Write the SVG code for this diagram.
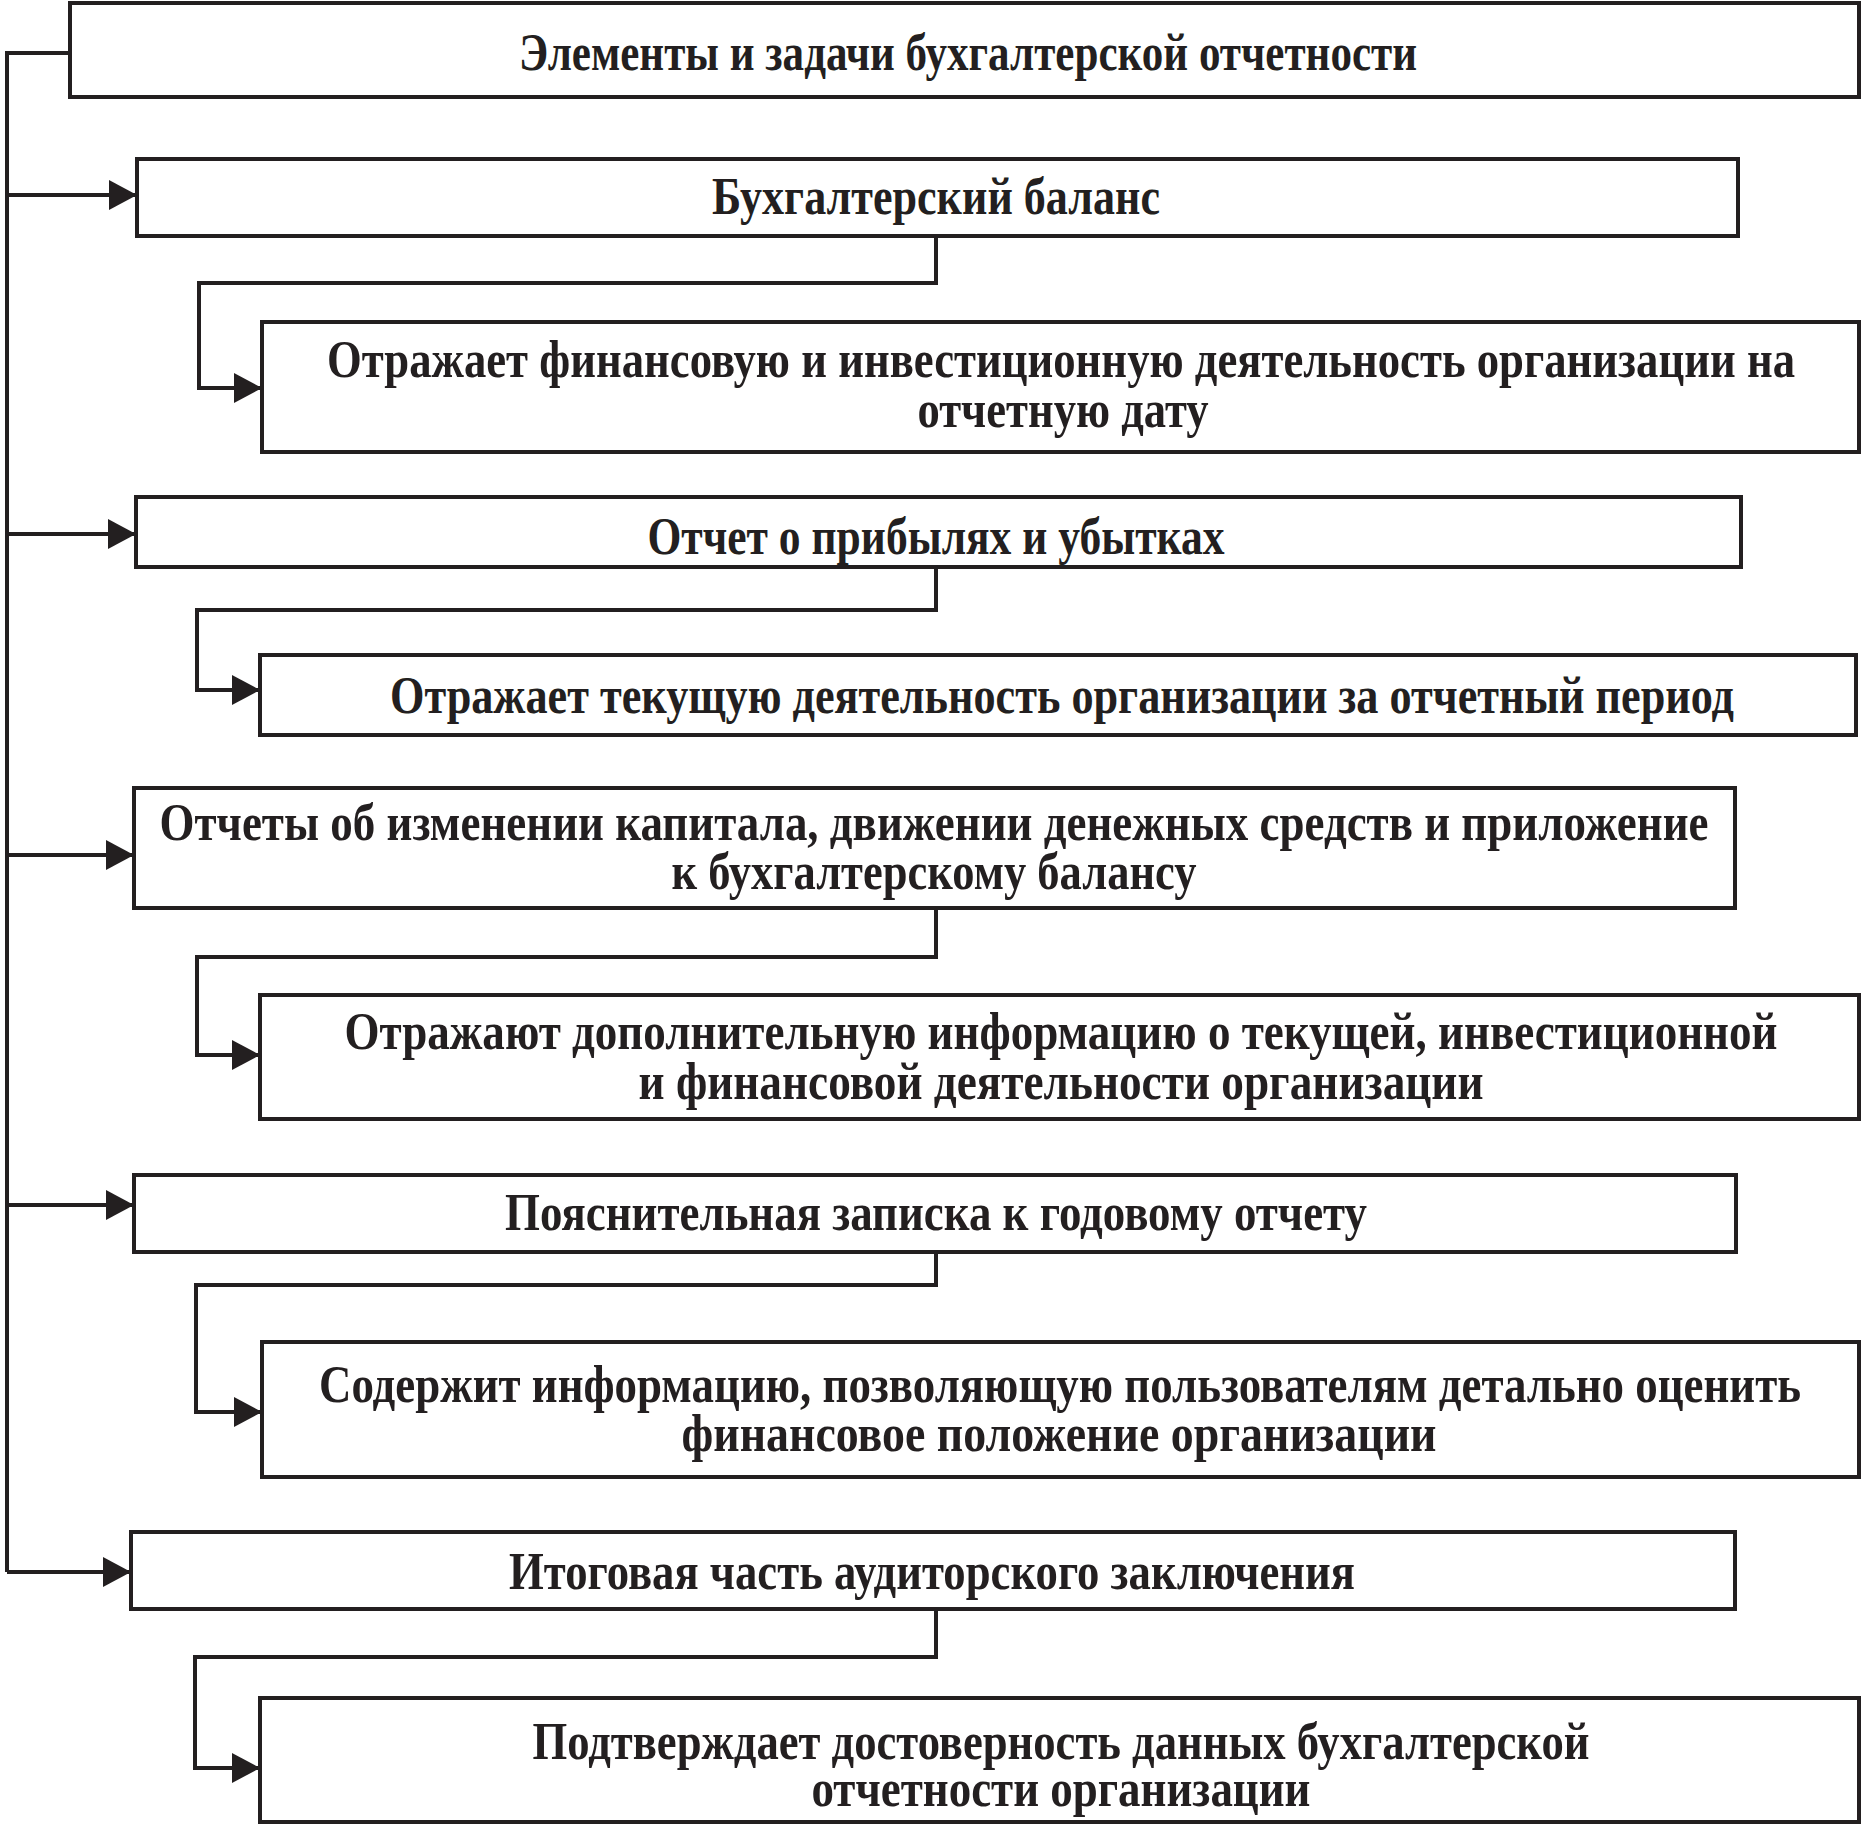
<svg xmlns="http://www.w3.org/2000/svg" width="1864" height="1825" viewBox="0 0 1864 1825">
<style>
.box{fill:#fff;stroke:#231f20;stroke-width:4}
.t{font-family:"Liberation Serif","Times New Roman",serif;font-weight:bold;font-size:52px;fill:#231f20;text-anchor:middle}
.c{fill:none;stroke:#231f20;stroke-width:4}
</style>
<defs>
<marker id="ah" markerUnits="userSpaceOnUse" markerWidth="28" markerHeight="30" refX="28" refY="15" orient="auto">
<path d="M0,0 L28,15 L0,30 z" fill="#231f20"/>
</marker>
</defs>
<rect width="1864" height="1825" fill="#fff"/>
<g id="connectors">
<path class="c" d="M70,53 H7 V1572"/>
<path class="c" d="M7,195 H137" marker-end="url(#ah)"/>
<path class="c" d="M7,534 H136" marker-end="url(#ah)"/>
<path class="c" d="M7,855 H134" marker-end="url(#ah)"/>
<path class="c" d="M7,1205 H134" marker-end="url(#ah)"/>
<path class="c" d="M7,1572 H131" marker-end="url(#ah)"/>
<path class="c" d="M936,236 V283 H199 V388 H262" marker-end="url(#ah)"/>
<path class="c" d="M936,567 V610 H197 V690 H260" marker-end="url(#ah)"/>
<path class="c" d="M936,908 V957 H197 V1055 H260" marker-end="url(#ah)"/>
<path class="c" d="M936,1252 V1285 H196 V1412 H262" marker-end="url(#ah)"/>
<path class="c" d="M936,1609 V1657 H195 V1768 H260" marker-end="url(#ah)"/>
</g>
<g id="title">
<rect class="box" x="70" y="3" width="1789" height="94"/>
<text class="t" x="968" y="70" textLength="898" lengthAdjust="spacingAndGlyphs">Элементы и задачи бухгалтерской отчетности</text>
</g>
<g id="balance">
<rect class="box" x="137" y="159" width="1601" height="77"/>
<text class="t" x="936" y="214" textLength="448" lengthAdjust="spacingAndGlyphs">Бухгалтерский баланс</text>
</g>
<g id="balance-task">
<rect class="box" x="262" y="322" width="1597" height="130"/>
<text class="t" x="1061" y="377" textLength="1468" lengthAdjust="spacingAndGlyphs">Отражает финансовую и инвестиционную деятельность организации на</text>
<text class="t" x="1063" y="427" textLength="291" lengthAdjust="spacingAndGlyphs">отчетную дату</text>
</g>
<g id="profit">
<rect class="box" x="136" y="497" width="1605" height="70"/>
<text class="t" x="936" y="554" textLength="577" lengthAdjust="spacingAndGlyphs">Отчет о прибылях и убытках</text>
</g>
<g id="profit-task">
<rect class="box" x="260" y="655" width="1596" height="80"/>
<text class="t" x="1062" y="713" textLength="1344" lengthAdjust="spacingAndGlyphs">Отражает текущую деятельность организации за отчетный период</text>
</g>
<g id="reports">
<rect class="box" x="134" y="788" width="1601" height="120"/>
<text class="t" x="934" y="840" textLength="1549" lengthAdjust="spacingAndGlyphs">Отчеты об изменении капитала, движении денежных средств и приложение</text>
<text class="t" x="934" y="889" textLength="525" lengthAdjust="spacingAndGlyphs">к бухгалтерскому балансу</text>
</g>
<g id="reports-task">
<rect class="box" x="260" y="995" width="1599" height="124"/>
<text class="t" x="1061" y="1049" textLength="1433" lengthAdjust="spacingAndGlyphs">Отражают дополнительную информацию о текущей, инвестиционной</text>
<text class="t" x="1061" y="1099" textLength="845" lengthAdjust="spacingAndGlyphs">и финансовой деятельности организации</text>
</g>
<g id="note">
<rect class="box" x="134" y="1175" width="1602" height="77"/>
<text class="t" x="936" y="1230" textLength="862" lengthAdjust="spacingAndGlyphs">Пояснительная записка к годовому отчету</text>
</g>
<g id="note-task">
<rect class="box" x="262" y="1342" width="1597" height="135"/>
<text class="t" x="1060" y="1402" textLength="1482" lengthAdjust="spacingAndGlyphs">Содержит информацию, позволяющую пользователям детально оценить</text>
<text class="t" x="1059" y="1451" textLength="755" lengthAdjust="spacingAndGlyphs">финансовое положение организации</text>
</g>
<g id="audit">
<rect class="box" x="131" y="1532" width="1604" height="77"/>
<text class="t" x="932" y="1589" textLength="846" lengthAdjust="spacingAndGlyphs">Итоговая часть аудиторского заключения</text>
</g>
<g id="audit-task">
<rect class="box" x="260" y="1698" width="1599" height="124"/>
<text class="t" x="1061" y="1759" textLength="1057" lengthAdjust="spacingAndGlyphs">Подтверждает достоверность данных бухгалтерской</text>
<text class="t" x="1061" y="1806" textLength="499" lengthAdjust="spacingAndGlyphs">отчетности организации</text>
</g>
</svg>
